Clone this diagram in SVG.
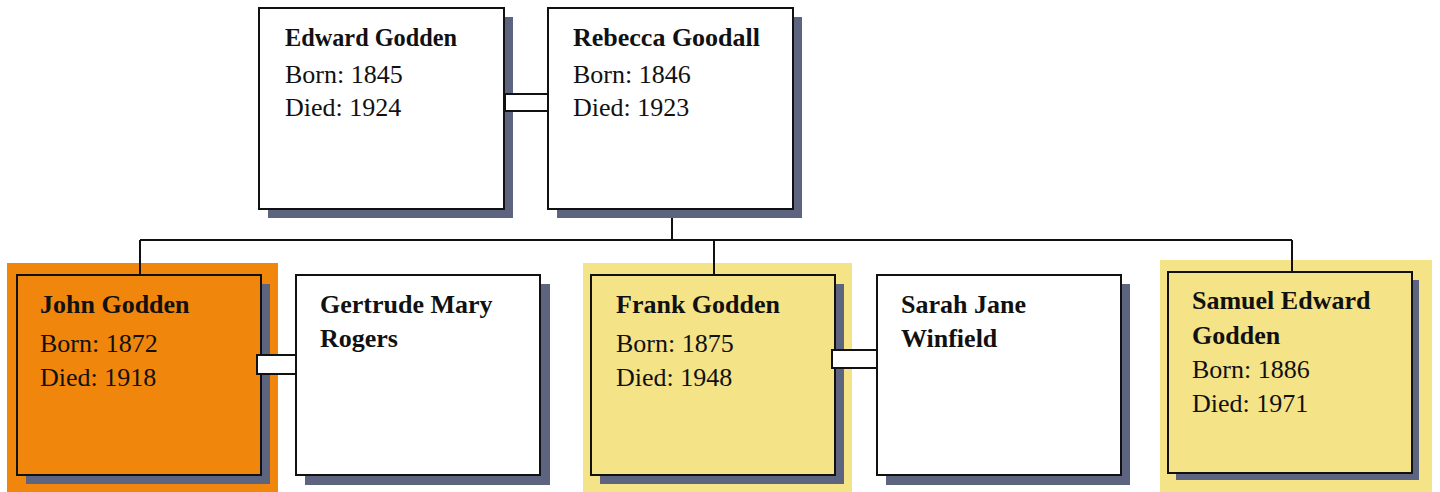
<svg xmlns="http://www.w3.org/2000/svg" width="1440" height="492" viewBox="0 0 1440 492">
  <style>
    .shadow { fill: #5c6480; }
    .box { fill: #ffffff; stroke: #111111; stroke-width: 2; }
    .box-orange { fill: #f0860c; stroke: #111111; stroke-width: 2; }
    .box-yellow { fill: #f5e387; stroke: #111111; stroke-width: 2; }
    .name { font-family: "Liberation Serif", "Times New Roman", serif; font-weight: bold; font-size: 26px; fill: #111111; }
    .info { font-family: "Liberation Serif", "Times New Roman", serif; font-size: 26px; fill: #111111; }
    .line { fill: none; stroke: #111111; stroke-width: 2; }
    .couple { fill: #ffffff; stroke: #111111; stroke-width: 2; }
  </style>

  <rect width="1440" height="492" fill="#ffffff"/>

  <!-- highlight panels behind selected people -->
  <rect x="7" y="263" width="271" height="229" fill="#f0860c"/>
  <rect x="583" y="263" width="269" height="229" fill="#f5e387"/>
  <rect x="1160" y="260" width="272" height="232" fill="#f5e387"/>

  <!-- parent / child lines -->
  <g id="connectors">
    <path class="line" d="M672 210 V240 M140 240 H1292 M140 240 V275 M714 240 V275 M1292 240 V272"/>
  </g>

  <g id="edward-godden">
    <rect class="shadow" x="268" y="17" width="245" height="201"/>
    <rect class="box" x="259" y="8" width="245" height="201"/>
    <text class="name" x="285" y="46" textLength="172" lengthAdjust="spacingAndGlyphs">Edward Godden</text>
    <text class="info" x="285" y="83">Born: 1845</text>
    <text class="info" x="285" y="116">Died: 1924</text>
  </g>

  <g id="rebecca-goodall">
    <rect class="shadow" x="557" y="17" width="245" height="201"/>
    <rect class="box" x="548" y="8" width="245" height="201"/>
    <text class="name" x="573" y="46">Rebecca Goodall</text>
    <text class="info" x="573" y="83">Born: 1846</text>
    <text class="info" x="573" y="116">Died: 1923</text>
  </g>

  <g id="john-godden">
    <rect class="shadow" x="26" y="284" width="244" height="200"/>
    <rect class="box-orange" x="17" y="275" width="244" height="200"/>
    <text class="name" x="40" y="313">John Godden</text>
    <text class="info" x="40" y="352">Born: 1872</text>
    <text class="info" x="40" y="386">Died: 1918</text>
  </g>

  <g id="gertrude-mary-rogers">
    <rect class="shadow" x="305" y="284" width="245" height="201"/>
    <rect class="box" x="296" y="275" width="244" height="200"/>
    <text class="name" x="320" y="313">Gertrude Mary</text>
    <text class="name" x="320" y="347">Rogers</text>
  </g>

  <g id="frank-godden">
    <rect class="shadow" x="600" y="284" width="244" height="200"/>
    <rect class="box-yellow" x="591" y="275" width="244" height="200"/>
    <text class="name" x="616" y="313">Frank Godden</text>
    <text class="info" x="616" y="352">Born: 1875</text>
    <text class="info" x="616" y="386">Died: 1948</text>
  </g>

  <g id="sarah-jane-winfield">
    <rect class="shadow" x="886" y="284" width="244" height="201"/>
    <rect class="box" x="877" y="275" width="244" height="200"/>
    <text class="name" x="901" y="313">Sarah Jane</text>
    <text class="name" x="901" y="347">Winfield</text>
  </g>

  <g id="samuel-edward-godden">
    <rect class="shadow" x="1176" y="280" width="243" height="200"/>
    <rect class="box-yellow" x="1168" y="272" width="244" height="201"/>
    <text class="name" x="1192" y="309">Samuel Edward</text>
    <text class="name" x="1192" y="344">Godden</text>
    <text class="info" x="1192" y="378">Born: 1886</text>
    <text class="info" x="1192" y="412">Died: 1971</text>
  </g>

  <!-- marriage links -->
  <g id="marriages">
    <rect class="couple" x="505" y="94" width="43" height="17"/>
    <rect class="couple" x="257" y="355" width="39" height="19"/>
    <rect class="couple" x="832" y="350" width="45" height="18"/>
  </g>
</svg>
